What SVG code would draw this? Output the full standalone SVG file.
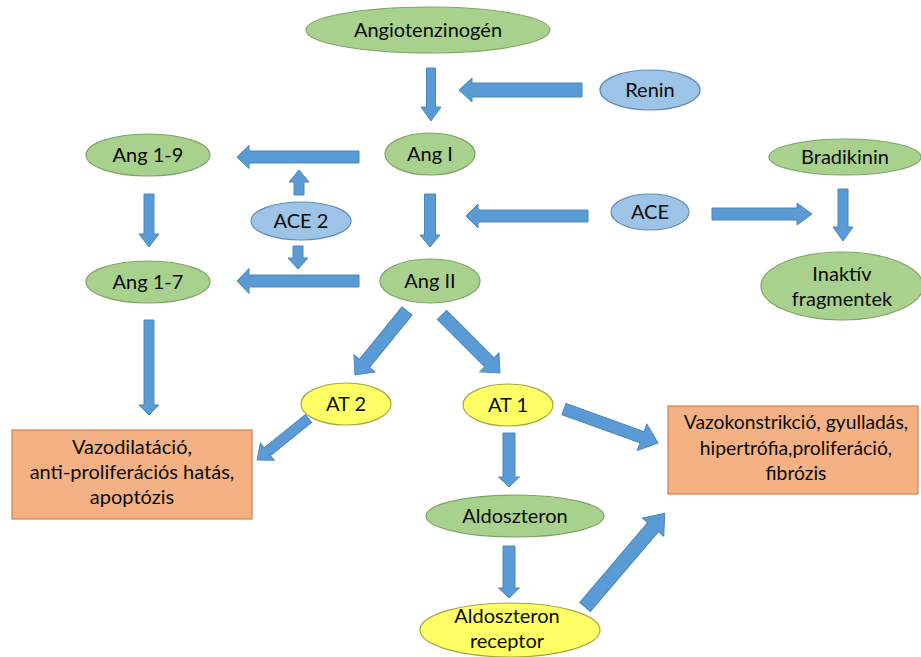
<svg xmlns="http://www.w3.org/2000/svg" width="921" height="657" viewBox="0 0 921 657">
<style>
.g{fill:#A9D18E;stroke:#7FA464;stroke-width:1.2}
.b{fill:#9DC3E6;stroke:#5B8DBA;stroke-width:1.2}
.y{fill:#FFFF66;stroke:#A6A640;stroke-width:1.2}
.o{fill:#F4B183;stroke:#D0804F;stroke-width:1.2}
.a{fill:#5B9BD5;stroke:#4A86BE;stroke-width:1}
text{font-family:Lato,"Noto Sans","Liberation Sans",sans-serif;font-size:20px;fill:#0a0a0a;text-anchor:middle}
.s{font-size:19.3px}
</style>
<rect width="921" height="657" fill="#fff"/>
<g id="connectors">
<path class="a" transform="translate(431,68) rotate(90)" d="M0,-4.5 L39,-4.5 L39,-10 L53,0 L39,10 L39,4.5 L0,4.5Z"/>
<path class="a" transform="translate(582,90) rotate(180)" d="M0,-7 L110,-7 L110,-12 L123,0 L110,12 L110,7 L0,7Z"/>
<path class="a" transform="translate(359,157) rotate(180)" d="M0,-6 L110,-6 L110,-11.5 L122,0 L110,11.5 L110,6 L0,6Z"/>
<path class="a" transform="translate(299,195) rotate(-90)" d="M0,-5 L13,-5 L13,-10 L25,0 L13,10 L13,5 L0,5Z"/>
<path class="a" transform="translate(298,246) rotate(90)" d="M0,-5 L12,-5 L12,-10 L23,0 L12,10 L12,5 L0,5Z"/>
<path class="a" transform="translate(149,194) rotate(90)" d="M0,-5 L40,-5 L40,-10 L53,0 L40,10 L40,5 L0,5Z"/>
<path class="a" transform="translate(430,194) rotate(90)" d="M0,-5.5 L41,-5.5 L41,-10 L53,0 L41,10 L41,5.5 L0,5.5Z"/>
<path class="a" transform="translate(359,281) rotate(180)" d="M0,-6 L110,-6 L110,-12.5 L122,0 L110,12.5 L110,6 L0,6Z"/>
<path class="a" transform="translate(588,216) rotate(180)" d="M0,-6 L110,-6 L110,-12 L122,0 L110,12 L110,6 L0,6Z"/>
<path class="a" transform="translate(712,214)" d="M0,-6 L85,-6 L85,-11 L100,0 L85,11 L85,6 L0,6Z"/>
<path class="a" transform="translate(843,189) rotate(90)" d="M0,-5 L38,-5 L38,-10 L52,0 L38,10 L38,5 L0,5Z"/>
<path class="a" transform="translate(149,320) rotate(90)" d="M0,-5 L85,-5 L85,-10 L95,0 L85,10 L85,5 L0,5Z"/>
<path class="a" transform="translate(407,311) rotate(129.1)" d="M0,-6.5 L67.5,-6.5 L67.5,-13.5 L82.5,0 L67.5,13.5 L67.5,6.5 L0,6.5Z"/>
<path class="a" transform="translate(442,315) rotate(45)" d="M0,-6.5 L67,-6.5 L67,-13.5 L82,0 L67,13.5 L67,6.5 L0,6.5Z"/>
<path class="a" transform="translate(308.5,418.5) rotate(141.1)" d="M0,-5 L53,-5 L53,-11 L66,0 L53,11 L53,5 L0,5Z"/>
<path class="a" transform="translate(564,409) rotate(19.9)" d="M0,-6 L83,-6 L83,-14 L100,0 L83,14 L83,6 L0,6Z"/>
<path class="a" transform="translate(509,433) rotate(90)" d="M0,-6 L44,-6 L44,-10.5 L54,0 L44,10.5 L44,6 L0,6Z"/>
<path class="a" transform="translate(509,546) rotate(90)" d="M0,-6 L42,-6 L42,-10.5 L52,0 L42,10.5 L42,6 L0,6Z"/>
<path class="a" transform="translate(585,607) rotate(-49.6)" d="M0,-7 L105,-7 L105,-14 L123,0 L105,14 L105,7 L0,7Z"/>
</g>
<g id="angiotenzinogen"><ellipse class="g" cx="428" cy="30" rx="122" ry="23"/><text x="428" y="37">Angiotenzinogén</text></g>
<g id="renin"><ellipse class="b" cx="650" cy="90" rx="50" ry="20"/><text x="650" y="97">Renin</text></g>
<g id="ang1"><ellipse class="g" cx="430" cy="154" rx="45" ry="21"/><text x="430" y="161">Ang I</text></g>
<g id="ang19"><ellipse class="g" cx="148" cy="155" rx="62" ry="21"/><text x="148" y="162">Ang 1-9</text></g>
<g id="ace2"><ellipse class="b" cx="301" cy="221" rx="50" ry="19"/><text x="301" y="228">ACE 2</text></g>
<g id="ang17"><ellipse class="g" cx="148" cy="282" rx="62" ry="21"/><text x="148" y="289">Ang 1-7</text></g>
<g id="ang2"><ellipse class="g" cx="430" cy="281" rx="50" ry="22"/><text x="430" y="288">Ang II</text></g>
<g id="ace"><ellipse class="b" cx="650" cy="212" rx="39" ry="18"/><text x="650" y="219">ACE</text></g>
<g id="bradikinin"><ellipse class="g" cx="845" cy="157" rx="76" ry="18"/><text x="845" y="164">Bradikinin</text></g>
<g id="inaktiv"><ellipse class="g" cx="842" cy="286" rx="81" ry="34"/><text x="842" y="281">Inaktív</text><text x="842" y="306">fragmentek</text></g>
<g id="at2"><ellipse class="y" cx="346" cy="404" rx="45" ry="21"/><text x="346" y="411">AT 2</text></g>
<g id="at1"><ellipse class="y" cx="508" cy="405" rx="45" ry="21"/><text x="508" y="412">AT 1</text></g>
<g id="vazodilatacio"><rect class="o" x="12" y="430" width="240" height="89"/><text x="132" y="454">Vazodilatáció,</text><text x="132" y="479">anti-proliferációs hatás,</text><text x="132" y="504">apoptózis</text></g>
<g id="vazokonstrikcio"><rect class="o" x="668" y="406" width="250" height="88"/><text class="s" x="796" y="429">Vazokonstrikció, gyulladás,</text><text class="s" x="796" y="455">hipertrófia,proliferáció,</text><text class="s" x="796" y="480">fibrózis</text></g>
<g id="aldoszteron"><ellipse class="g" cx="515" cy="516" rx="89" ry="21"/><text x="515" y="523">Aldoszteron</text></g>
<g id="receptor"><ellipse class="y" cx="510" cy="630" rx="90" ry="27"/><text x="507" y="623">Aldoszteron</text><text x="507" y="648">receptor</text></g>
</svg>
